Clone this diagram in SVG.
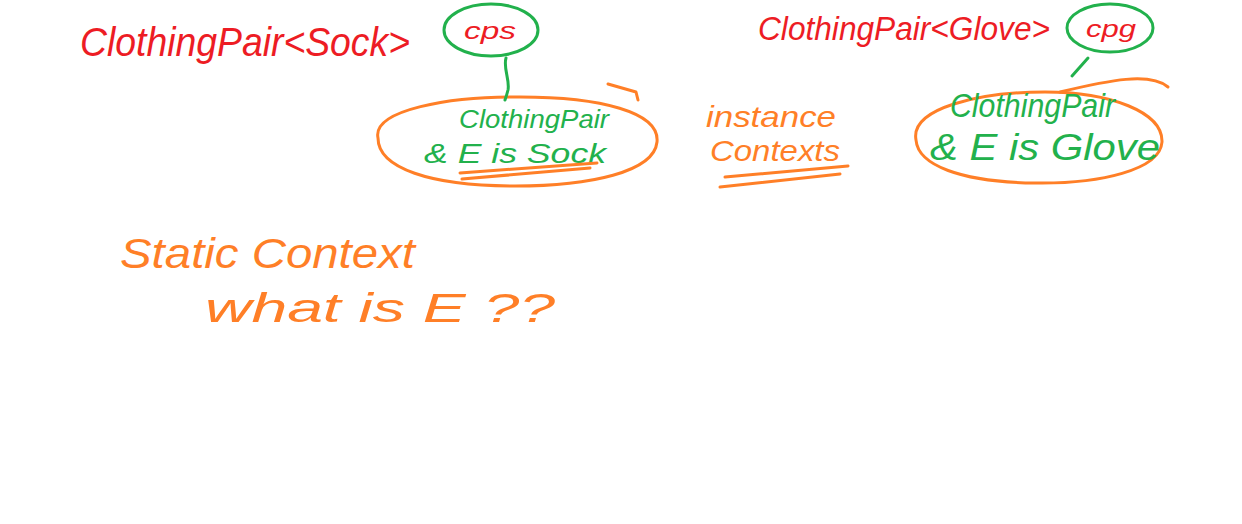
<svg xmlns="http://www.w3.org/2000/svg" width="1242" height="524" viewBox="0 0 1242 524">
<style>
.red{fill:#ed1c24;font-family:"Liberation Sans",Arial,sans-serif;font-style:italic}
.grn{fill:#22b14c;font-family:"Liberation Sans",Arial,sans-serif;font-style:italic}
.org{fill:#ff7f27;font-family:"Liberation Sans",Arial,sans-serif;font-style:italic}
.gs{fill:none;stroke:#22b14c;stroke-width:3;stroke-linecap:round;stroke-linejoin:round}
.os{fill:none;stroke:#ff7f27;stroke-width:3;stroke-linecap:round;stroke-linejoin:round}
</style>
<rect width="1242" height="524" fill="#fff"/>
<g id="title-sock">
<text class="red" x="80" y="56" font-size="40" textLength="330" lengthAdjust="spacingAndGlyphs">ClothingPair&lt;Sock&gt;</text>
</g>
<g id="ref-cps">
<ellipse class="gs" cx="491" cy="30" rx="47" ry="26"/>
<text class="red" x="464" y="39" font-size="24" textLength="52" lengthAdjust="spacingAndGlyphs">cps</text>
</g>
<g id="object-sock">
<path class="os" d="M378,138 C372,110 450,96 520,97 C600,97 660,112 657,142 C654,172 590,186 515,186 C430,186 378,168 378,138 Z"/>
<path class="os" d="M608,84 L636,92 L638,100"/>
<text class="grn" x="459" y="128" font-size="26" textLength="150" lengthAdjust="spacingAndGlyphs">ClothingPair</text>
<text class="grn" x="424" y="163" font-size="28" textLength="182" lengthAdjust="spacingAndGlyphs">&amp; E is Sock</text>
<path class="os" d="M460,173 L597,163 M462,179 L590,168"/>
</g>
<g id="title-glove">
<text class="red" x="758" y="40" font-size="34" textLength="292" lengthAdjust="spacingAndGlyphs">ClothingPair&lt;Glove&gt;</text>
</g>
<g id="ref-cpg">
<ellipse class="gs" cx="1110" cy="28" rx="43" ry="24"/>
<text class="red" x="1086" y="37" font-size="24" textLength="50" lengthAdjust="spacingAndGlyphs">cpg</text>
</g>
<g id="object-glove">
<path class="os" d="M916,140 C910,108 980,92 1045,92 C1110,92 1163,112 1162,142 C1160,170 1100,184 1035,183 C960,182 918,165 916,140 Z"/>
<path class="os" d="M1060,92 C1110,80 1150,72 1168,87"/>
<text class="grn" x="950" y="117" font-size="34" textLength="165" lengthAdjust="spacingAndGlyphs">ClothingPair</text>
<text class="grn" x="930" y="160" font-size="36" textLength="230" lengthAdjust="spacingAndGlyphs">&amp; E is Glove</text>
</g>
<g id="label-instance">
<text class="org" x="706" y="127" font-size="30" textLength="130" lengthAdjust="spacingAndGlyphs">instance</text>
<text class="org" x="710" y="161" font-size="30" textLength="130" lengthAdjust="spacingAndGlyphs">Contexts</text>
<path class="os" d="M725,177 L848,166 M720,187 L840,174"/>
</g>
<g id="label-static">
<text class="org" x="120" y="268" font-size="42" textLength="295" lengthAdjust="spacingAndGlyphs">Static Context</text>
<text class="org" x="205" y="322" font-size="40" textLength="350" lengthAdjust="spacingAndGlyphs">what is  E  ??</text>
</g>
<g id="connectors">
<path class="gs" d="M506,58 C503,68 510,80 508,90 C507,94 506,97 505,100"/>
<path class="gs" d="M1088,58 L1072,76"/>
</g>
</svg>
